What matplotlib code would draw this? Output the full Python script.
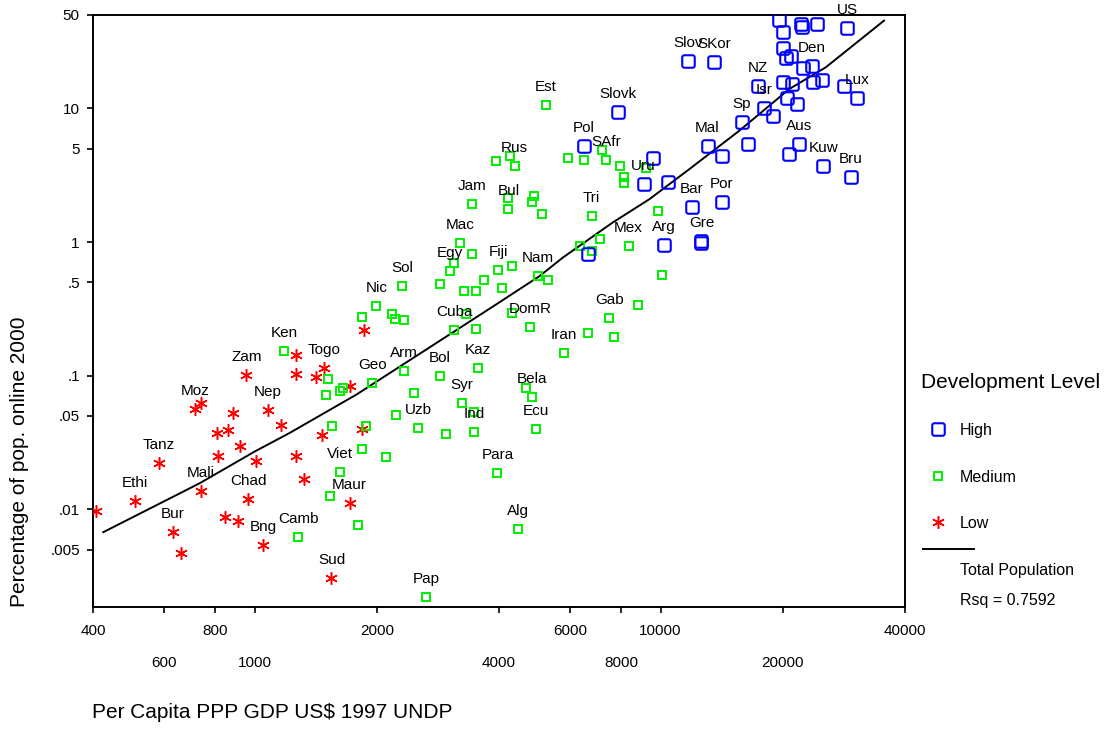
import numpy as np
import matplotlib
matplotlib.use("Agg")
import matplotlib.pyplot as plt
from matplotlib.path import Path
from matplotlib.lines import Line2D

plt.rcParams['font.family'] = ['Liberation Sans', 'DejaVu Sans']

# GDP per capita (PPP US$ 1997) and % of population online in 2000
high_gdp = [7840, 6467, 9084, 9596, 10410, 10170, 6617, 11930, 14130, 12610, 12610,
            13050, 14130, 16410, 15830, 17950, 18960, 17330, 11660, 13530, 19630,
            20070, 22160, 22260, 24300, 28850, 20070, 20390, 20940, 22400, 23620,
            20010, 21060, 23710, 24930, 20510, 21740, 28270, 30530, 21980, 20770,
            25170, 29460]
high_pct = [9.33, 5.22, 2.71, 4.23, 2.80, 0.956, 0.809, 1.84, 1.98, 1.017, 0.986,
            5.22, 4.37, 5.40, 7.94, 10.0, 8.76, 14.7, 22.8, 22.1, 46.1,
            37.3, 42.6, 41.0, 42.6, 39.8, 28.4, 23.8, 24.5, 20.0, 20.7,
            15.8, 15.3, 15.8, 16.2, 11.95, 10.8, 14.7, 11.9, 5.40, 4.54,
            3.69, 3.09]
high_lbl = ['Slovk', 'Pol', 'Uru', '', '', 'Arg', '', 'Bar', 'Por', 'Gre', '',
            'Mal', '', '', 'Sp', 'Isr', '', 'NZ', 'Slov', 'SKor', '',
            '', '', '', '', 'US', '', '', '', '', 'Den',
            '', '', '', '', '', '', '', 'Lux', 'Aus', '',
            'Kuw', 'Bru']

med_gdp = [1182, 1517, 1503, 1625, 1655, 1552, 1885, 1843, 2112, 1623, 1538, 1800,
           1281, 2648, 1950, 2338, 2468, 2234, 2530, 2861, 3248, 3468, 3468, 2954,
           3547, 3100, 3322, 3515, 1843, 1995, 2184, 2213, 2338, 2312, 2864, 3034,
           3097, 3433, 3211, 3437, 3276, 3515, 3678, 4068, 3982, 4301, 4985, 5274,
           4301, 4773, 3966, 4449, 4659, 4829, 4934, 5771, 6631, 7479, 7665, 8780,
           10070, 6320, 7096, 6767, 8340, 6767, 9836, 8128, 8128, 9208, 7953, 7340,
           7176, 6467, 5905, 4257, 3928, 4368, 5227, 4219, 4219, 4873, 4824, 5111]
med_pct = [0.154, 0.0951, 0.0722, 0.0773, 0.0814, 0.0418, 0.0418, 0.0284, 0.0247,
           0.0189, 0.0125, 0.00765, 0.00619, 0.00222, 0.0887, 0.109, 0.0743, 0.0511,
           0.0403, 0.099, 0.0628, 0.0535, 0.0376, 0.0365, 0.114, 0.219, 0.290, 0.225,
           0.277, 0.330, 0.290, 0.267, 0.260, 0.468, 0.482, 0.610, 0.701, 0.809,
           0.990, 1.92, 0.433, 0.434, 0.516, 0.450, 0.614, 0.657, 0.556, 0.516,
           0.296, 0.232, 0.0188, 0.00712, 0.0804, 0.0697, 0.0401, 0.148, 0.209,
           0.268, 0.196, 0.341, 0.568, 0.932, 1.062, 0.862, 0.929, 1.56, 1.72,
           3.06, 2.75, 3.56, 3.69, 4.08, 4.87, 4.08, 4.22, 4.39, 4.05, 3.69,
           10.6, 2.13, 1.78, 2.21, 1.98, 1.61]
med_lbl = ['Ken', '', '', '', '', '', '', '', '', 'Viet', '', '',
           'Camb', 'Pap', 'Geo', 'Arm', '', '', 'Uzb', 'Bol', 'Syr', '', 'Ind', '',
           'Kaz', 'Cuba', '', '', '', 'Nic', '', '', '', 'Sol', '', 'Egy',
           '', '', 'Mac', 'Jam', '', '', '', '', 'Fiji', '', 'Nam', '',
           '', 'DomR', 'Para', 'Alg', '', 'Bela', 'Ecu', 'Iran', '', 'Gab', '', '',
           '', '', '', '', 'Mex', 'Tri', '', '', '', '', '', 'SAfr',
           '', '', '', '', '', 'Rus', 'Est', '', 'Bul', '', '', '']

low_gdp = [408, 508, 581, 713, 736, 628, 658, 736, 809, 861, 883, 813, 920, 845, 911,
           955, 964, 1011, 1080, 1160, 1050, 1263, 1324, 1268, 1268, 1415, 1483,
           1466, 1547, 1857, 1715, 1839, 1715]
low_pct = [0.00975, 0.0116, 0.0223, 0.0564, 0.0625, 0.00675, 0.00474, 0.0138,
           0.0372, 0.039, 0.0526, 0.0249, 0.0296, 0.00875, 0.0082, 0.102, 0.0119,
           0.0231, 0.055, 0.0428, 0.00542, 0.0251, 0.0169, 0.144, 0.103, 0.0973,
           0.114, 0.0362, 0.00305, 0.219, 0.0833, 0.0401, 0.0111]
low_lbl = ['', 'Ethi', 'Tanz', 'Moz', '', 'Bur', '', 'Mali', '', '', '', '', '', '', '',
           'Zam', 'Chad', '', 'Nep', '', 'Bng', '', '', '', '', '', 'Togo',
           '', 'Sud', '', '', '', 'Maur']

# fitted line for the total population
fit_gdp = [424, 733, 1001, 1220, 1781, 3790, 5033, 5740, 7621, 9380, 11770, 15620,
           20740, 25520, 35520]
fit_pct = [0.00675, 0.0157, 0.0271, 0.0373, 0.0722, 0.317, 0.556, 0.764, 1.40, 2.09,
           3.51, 6.80, 13.95, 20.3, 45.4]

x_major = [400, 800, 2000, 6000, 10000, 40000]
x_minor = [600, 1000, 4000, 8000, 20000]
y_ticks = [50, 10, 5, 1, 0.5, 0.1, 0.05, 0.01, 0.005]
y_ticklabels = ['50', '10', '5', '1', '.5', '.1', '.05', '.01', '.005']


def rounded_square(r=0.35, n=7):
    verts = []
    for cx, cy, a0 in [(1 - r, 1 - r, 0), (-1 + r, 1 - r, 90),
                       (-1 + r, -1 + r, 180), (1 - r, -1 + r, 270)]:
        for t in np.radians(np.linspace(a0, a0 + 90, n)):
            verts.append((cx + r * np.cos(t), cy + r * np.sin(t)))
    verts.append(verts[0])
    codes = [Path.MOVETO] + [Path.LINETO] * (len(verts) - 2) + [Path.CLOSEPOLY]
    return Path(verts, codes)


rsq = rounded_square()
styles = {
    'High': dict(marker=rsq, color='#0000ff', ms=9, mew=1.5),
    'Medium': dict(marker='s', color='#00f000', ms=5.7, mew=1.4),
    'Low': dict(marker=(6, 2, 0), color='#ff0000', ms=9, mew=1.1),
}

fig = plt.figure(figsize=(11.09, 7.29), dpi=100)
ax = fig.add_axes([93 / 1109, 1 - 607 / 729, 812 / 1109, 592 / 729])

ax.plot(fit_gdp, fit_pct, color='black', lw=1.4, zorder=3)

for key, gdp, pct, lbl in [('Low', low_gdp, low_pct, low_lbl),
                           ('Medium', med_gdp, med_pct, med_lbl),
                           ('High', high_gdp, high_pct, high_lbl)]:
    st = styles[key]
    ax.plot(gdp, pct, linestyle='none', marker=st['marker'], ms=st['ms'],
            mew=st['mew'], mec=st['color'], mfc='none', zorder=4)
    for x, y, t in zip(gdp, pct, lbl):
        if t:
            ax.annotate(t, (x, y), xytext=(0, 13), textcoords='offset points',
                        ha='center', va='center', fontsize=11, zorder=5)

ax.set_xscale('log')
ax.set_yscale('log')
ax.set_xlim(400, 40000)
ax.set_ylim(0.00186, 50)

ax.set_xticks(x_major)
ax.set_xticklabels([str(v) for v in x_major])
ax.set_xticks(x_minor, minor=True)
ax.set_xticklabels([str(v) for v in x_minor], minor=True)
ax.set_yticks(y_ticks)
ax.set_yticklabels(y_ticklabels)
ax.yaxis.set_minor_locator(matplotlib.ticker.NullLocator())

ax.tick_params(axis='both', which='both', direction='out', length=4.5, width=1.2,
               labelsize=11)
ax.tick_params(axis='x', which='major', pad=8)
ax.tick_params(axis='x', which='minor', pad=31)
ax.tick_params(axis='y', pad=5)
for sp in ax.spines.values():
    sp.set_linewidth(1.4)

fig.text(20 / 1109, 1 - 462 / 729, 'Percentage of pop. online 2000', rotation=90,
         ha='center', va='center', fontsize=15)
fig.text(92 / 1109, 1 - 712 / 729, 'Per Capita PPP GDP US$ 1997 UNDP',
         ha='left', va='center', fontsize=15)

# legend drawn by hand on the right
def fx(px):
    return px / 1109


def fy(py):
    return 1 - py / 729


fig.text(fx(921), fy(382), 'Development Level', ha='left', va='center', fontsize=15)
for key, py in [('High', 429), ('Medium', 476), ('Low', 522)]:
    st = styles[key]
    fig.add_artist(Line2D([fx(938)], [fy(py)], transform=fig.transFigure,
                          linestyle='none', marker=st['marker'], ms=st['ms'],
                          mew=st['mew'], mec=st['color'], mfc='none'))
    fig.text(fx(960), fy(py + 1), key, ha='left', va='center', fontsize=11.5)
fig.add_artist(Line2D([fx(923), fx(974)], [fy(549), fy(549)],
                      transform=fig.transFigure, color='black', lw=1.4))
fig.text(fx(960), fy(571), 'Total Population', ha='left', va='center', fontsize=11.5)
fig.text(fx(960), fy(600), 'Rsq = 0.7592', ha='left', va='center', fontsize=11.5)

fig.savefig('out.png', dpi=100)
